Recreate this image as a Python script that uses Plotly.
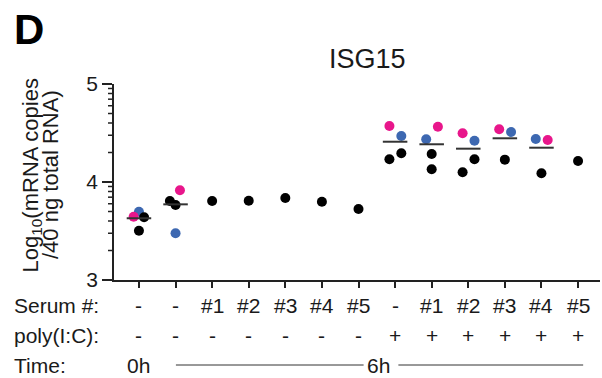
import plotly.graph_objects as go
import numpy as np

# ---- data ----
serum_labels = ["-", "-", "#1", "#2", "#3", "#4", "#5", "-", "#1", "#2", "#3", "#4", "#5"]
polyic_labels = ["-", "-", "-", "-", "-", "-", "-", "+", "+", "+", "+", "+", "+"]
time_labels = ["0h", "6h"]

# black donors (category index, value)
black_cat = [0, 0, 1, 1, 2, 3, 4, 5, 6, 7, 7, 8, 8, 9, 9, 10, 11, 12]
black_val = [3.640, 3.503, 3.806, 3.765, 3.806, 3.809, 3.837, 3.799, 3.724,
             4.232, 4.293, 4.286, 4.130, 4.232, 4.099, 4.228, 4.089, 4.214]
# pink donor
pink_cat = [0, 1, 7, 8, 9, 10, 11]
pink_val = [3.646, 3.915, 4.571, 4.564, 4.497, 4.538, 4.429]
# blue donor
blue_cat = [0, 1, 7, 8, 9, 10, 11]
blue_val = [3.697, 3.477, 4.469, 4.436, 4.421, 4.510, 4.439]
# group means (horizontal bars)
mean_cat = [0, 1, 7, 8, 9, 10, 11]
mean_val = [3.630, 3.772, 4.411, 4.385, 4.340, 4.446, 4.350]

# horizontal jitter (category units)
black_dx = [0.14, 0.0, -0.155, 0.0, 0, 0, 0, 0, 0, -0.155, 0.17, 0.0, 0.0, 0.17, -0.155, 0.0, 0.0, 0.0]
pink_dx = [-0.145, 0.12, -0.155, 0.17, -0.155, -0.155, 0.17]
blue_dx = [0.0, 0.0, 0.17, -0.15, 0.17, 0.17, -0.155]

Y_MIN, Y_MAX = 3, 5
X_MIN, X_MAX = -0.682, 12.6
PLOT_W = 486
PINK = "#E8168B"
BLUE = "#3D68B1"
FONT = "Liberation Sans, Arial, sans-serif"
TXT = "#1a1a1a"
AX = "#222222"

fig = go.Figure()

def xs(cat, dx):
    return [c + d for c, d in zip(cat, dx)]

fig.add_trace(go.Scatter(x=xs(blue_cat, blue_dx), y=blue_val, mode="markers",
                         marker=dict(color=BLUE, size=10, line=dict(width=0)), showlegend=False))
fig.add_trace(go.Scatter(x=xs(pink_cat, pink_dx), y=pink_val, mode="markers",
                         marker=dict(color=PINK, size=10, line=dict(width=0)), showlegend=False))
fig.add_trace(go.Scatter(x=xs(black_cat, black_dx), y=black_val, mode="markers",
                         marker=dict(color="black", size=10, line=dict(width=0)), showlegend=False))

# mean bars
mx, my = [], []
for c, v in zip(mean_cat, mean_val):
    mx += [c - 0.335, c + 0.335, None]
    my += [v, v, None]
fig.add_trace(go.Scatter(x=mx, y=my, mode="lines", line=dict(color="#333333", width=2),
                         showlegend=False, hoverinfo="skip"))

# log-style minor tick positions on the y axis
minor_vals = [b + float(np.log10(k)) for b in (3, 4) for k in range(2, 10)]

fig.update_layout(
    width=602, height=378,
    margin=dict(l=114, r=2, t=84, b=98),
    paper_bgcolor="white", plot_bgcolor="white",
    font=dict(family=FONT, size=21, color=TXT),
    xaxis=dict(range=[X_MIN, X_MAX], showgrid=False, zeroline=False,
               showline=True, linecolor=AX, linewidth=1.6,
               tickmode="array", tickvals=list(range(13)), showticklabels=False,
               ticks="outside", ticklen=6, tickwidth=1.6, tickcolor=AX),
    yaxis=dict(range=[Y_MIN, Y_MAX], showgrid=False, zeroline=False,
               showline=True, linecolor=AX, linewidth=1.6,
               tickmode="array", tickvals=[3, 4, 5], ticktext=["3", "4", "5"],
               ticks="outside", ticklen=10, tickwidth=1.6, tickcolor=AX,
               tickfont=dict(size=21, family=FONT, color=TXT)),
)

# minor ticks: pixel-sized shapes anchored at the y axis
for v in minor_vals:
    yp = (v - Y_MIN) / (Y_MAX - Y_MIN)
    fig.add_shape(type="line", xref="paper", yref="paper",
                  xsizemode="pixel", xanchor=0, x0=-6, x1=0, y0=yp, y1=yp,
                  layer="above", line=dict(color=AX, width=1.5))

# panel letter
fig.add_annotation(text="<b>D</b>", xref="paper", yref="paper",
                   x=(12 - 114) / PLOT_W, y=(280 - 29) / 196, xanchor="left", yanchor="middle",
                   showarrow=False, font=dict(size=42, family=FONT, color="black"))
# title
fig.add_annotation(text="ISG15", xref="x", yref="paper", x=6.25, y=(280 - 59) / 196,
                   xanchor="center", yanchor="middle", showarrow=False,
                   font=dict(size=27, family=FONT, color=TXT))
# y-axis title (two lines)
fig.add_annotation(text="Log<sub>10</sub>(mRNA copies", xref="paper", yref="paper",
                   x=(31 - 114) / PLOT_W, y=(280 - 175.5) / 196, xanchor="center", yanchor="middle",
                   textangle=-90, showarrow=False, font=dict(size=22, family=FONT, color=TXT))
fig.add_annotation(text="/40 ng total RNA)", xref="paper", yref="paper",
                   x=(50 - 114) / PLOT_W, y=(280 - 175) / 196, xanchor="center", yanchor="middle",
                   textangle=-90, showarrow=False, font=dict(size=22, family=FONT, color=TXT))

row_y = [(280 - 305) / 196, (280 - 335) / 196, (280 - 365) / 196]
row_names = ["Serum #:", "poly(I:C):", "Time:"]
for name, yy in zip(row_names, row_y):
    fig.add_annotation(text=name, xref="paper", yref="paper", x=(12 - 114) / PLOT_W, y=yy,
                       xanchor="left", yanchor="middle", showarrow=False,
                       font=dict(size=21, family=FONT, color=TXT))
for i, (s, p) in enumerate(zip(serum_labels, polyic_labels)):
    fig.add_annotation(text=s, xref="x", yref="paper", x=i, y=row_y[0],
                       xanchor="center", yanchor="middle", showarrow=False,
                       font=dict(size=21, family=FONT, color=TXT))
    fig.add_annotation(text=p, xref="x", yref="paper", x=i, y=row_y[1],
                       xanchor="center", yanchor="middle", showarrow=False,
                       font=dict(size=21, family=FONT, color=TXT))
# time row
fig.add_annotation(text=time_labels[0], xref="x", yref="paper", x=0, y=row_y[2],
                   xanchor="center", yanchor="middle", showarrow=False,
                   font=dict(size=21, family=FONT, color=TXT))
fig.add_annotation(text=time_labels[1], xref="x", yref="paper", x=6.55, y=row_y[2],
                   xanchor="center", yanchor="middle", showarrow=False,
                   font=dict(size=21, family=FONT, color=TXT))
line_y = (280 - 365) / 196
for x0, x1 in [(1.01, 6.14), (7.09, 12.14)]:
    fig.add_shape(type="line", xref="x", yref="paper", x0=x0, x1=x1, y0=line_y, y1=line_y,
                  line=dict(color="#333333", width=1))

fig.write_html("out.html")
